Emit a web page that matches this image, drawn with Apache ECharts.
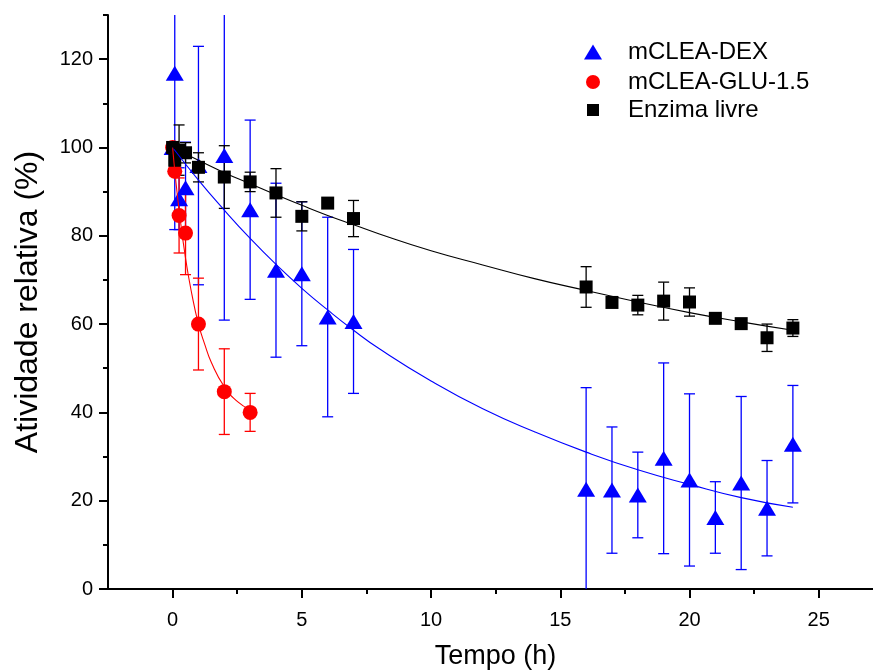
<!DOCTYPE html>
<html>
<head>
<meta charset="utf-8">
<script src="https://cdn.jsdelivr.net/npm/echarts@6/dist/echarts.min.js"></script>
<style>
html,body{margin:0;padding:0;background:#fff;}
#c{width:873px;height:671px;}
</style>
</head>
<body>
<div id="c"></div>
<script>
// ---- data ----
const tDex   = [0, 0.083, 0.25, 0.5, 1, 2, 3, 4, 5, 6, 7, 16, 17, 18, 19, 20, 21, 22, 23, 24];
const dex    = [100, 116.8, 88.4, 90.9, 95.9, 98.2, 85.9, 72.2, 71.4, 61.6, 60.6, 22.6, 22.4, 21.3, 29.6, 24.7, 16.2, 24.0, 18.3, 32.8];
const dexErr = [0, 35.4, 7, 10.3, 27, 37.3, 20.3, 19.7, 16.3, 22.6, 16.3, 23, 14.3, 9.7, 21.6, 19.5, 8.1, 19.6, 10.8, 13.3];

const tGlu   = [0, 0.083, 0.25, 0.5, 1, 2, 3];
const glu    = [100, 94.6, 84.6, 80.6, 60.0, 44.7, 40.0];
const gluErr = [0, 0, 8.5, 9.4, 10.4, 9.7, 4.3];

const tFree   = [0, 0.083, 0.25, 0.5, 1, 2, 3, 4, 5, 6, 7, 16, 17, 18, 19, 20, 21, 22, 23, 24];
const free    = [100, 97.1, 99.4, 98.8, 95.5, 93.3, 92.2, 89.7, 84.4, 87.4, 83.9, 68.4, 64.9, 64.3, 65.2, 65.0, 61.3, 60.1, 56.9, 59.1];
const freeErr = [0, 0, 5.7, 2.3, 3.3, 7.1, 2.2, 5.5, 3.3, 0, 4.1, 4.6, 0, 2.2, 4.3, 3.2, 0, 0, 3.1, 1.9];

// fitted curves
const fitT    = [0, 1, 2, 3, 4, 5, 6, 7, 8, 10, 12, 14, 16, 18, 20, 22, 24];
const fitFree = [100, 97.1, 94.3, 91.8, 89.3, 86.9, 84.6, 82.5, 80.4, 76.6, 73.4, 70.3, 67.6, 65.0, 62.6, 60.5, 58.6];
const fitDex  = [100, 92.6, 85.8, 79.4, 73.5, 68.1, 63.2, 58.6, 54.4, 47.1, 40.8, 35.6, 31.0, 27.0, 23.7, 20.7, 18.5];
const fitGluT = [0, 0.1, 0.25, 0.5, 0.75, 1, 1.25, 1.5, 2, 2.5, 3];
const fitGlu  = [100, 93.8, 85.9, 74.9, 66.6, 60.0, 55.3, 51.3, 45.8, 42.5, 40.6];

const xMajor = [0, 5, 10, 15, 20, 25];
const xMinor = [2.5, 7.5, 12.5, 17.5, 22.5];
const yMajor = [0, 20, 40, 60, 80, 100, 120];
const yMinor = [10, 30, 50, 70, 90, 110, 130];

const names = ['mCLEA-DEX', 'mCLEA-GLU-1.5', 'Enzima livre'];
// ---------------------------------------

const FONT = '"Liberation Sans", Arial, sans-serif';
const zip = (a, b) => a.map((v, i) => [v, b[i]]);
const zip3 = (a, b, c) => a.map((v, i) => [v, b[i], c[i]]);

function errSeries(data, color) {
  return {
    type: 'custom',
    xAxisIndex: 0, yAxisIndex: 0,
    clip: true,
    silent: true,
    data: data.filter(d => d[2] > 0),
    renderItem: function (params, api) {
      const x = api.value(0), y = api.value(1), e = api.value(2);
      const top = api.coord([x, y + e]);
      const bot = api.coord([x, y - e]);
      const hw = 5.5;
      const st = { stroke: color, lineWidth: 1.3 };
      return {
        type: 'group',
        children: [
          { type: 'line', shape: { x1: top[0], y1: top[1], x2: bot[0], y2: bot[1] }, style: st },
          { type: 'line', shape: { x1: top[0] - hw, y1: top[1], x2: top[0] + hw, y2: top[1] }, style: st },
          { type: 'line', shape: { x1: bot[0] - hw, y1: bot[1], x2: bot[0] + hw, y2: bot[1] }, style: st }
        ]
      };
    }
  };
}

function fitSeries(xs, ys, color) {
  return {
    type: 'line', xAxisIndex: 0, yAxisIndex: 0,
    data: zip(xs, ys), smooth: true, showSymbol: false, symbol: 'none',
    lineStyle: { color: color, width: 1.1 }, silent: true
  };
}

const BLUE = '#0000ff', RED = '#ff0000', BLACK = '#000000';

const chart = echarts.init(document.getElementById('c'), null, { renderer: 'canvas' });

const xBase = { type: 'value', min: -2.5, max: 27.1, splitLine: { show: false } };
const yBase = { type: 'value', min: 0, max: 130, splitLine: { show: false } };

function legendFor(name, icon, w, h, left, top, pad) {
  return {
    data: [{ name: name, icon: icon }],
    left: left, top: top,
    itemWidth: w, itemHeight: h,
    selectedMode: false,
    textStyle: { fontFamily: FONT, fontSize: 24, color: '#000', padding: [0, 0, 0, pad] }
  };
}

chart.setOption({
  animation: false,
  backgroundColor: '#fff',
  grid: { left: 108, right: 0, top: 15, bottom: 82, containLabel: false, outerBoundsMode: 'none' },
  legend: [
    legendFor(names[0], 'triangle', 18, 15, 579, 35, 21),
    legendFor(names[1], 'circle', 14, 14, 581, 65, 23),
    legendFor(names[2], 'rect', 12, 12, 582, 93, 24)
  ],
  xAxis: [
    Object.assign({}, xBase, {
      name: 'Tempo (h)', nameLocation: 'middle', nameGap: 54,
      nameTextStyle: { fontFamily: FONT, fontSize: 27, color: '#000', padding: [0, 0, 0, 10] },
      axisLine: { show: true, onZero: false, lineStyle: { color: '#000', width: 2 } },
      axisTick: { show: true, inside: false, length: 9, customValues: xMajor, lineStyle: { color: '#000', width: 2 } },
      axisLabel: { customValues: xMajor, margin: 21, fontFamily: FONT, fontSize: 20, color: '#000' }
    }),
    Object.assign({}, xBase, {
      position: 'bottom',
      axisLine: { show: false, onZero: false },
      axisTick: { show: true, inside: false, length: 5, customValues: xMinor, lineStyle: { color: '#000', width: 2 } },
      axisLabel: { show: false }
    })
  ],
  yAxis: [
    Object.assign({}, yBase, {
      name: 'Atividade relativa (%)', nameLocation: 'middle', nameGap: 64, nameRotate: 90,
      nameTextStyle: { fontFamily: FONT, fontSize: 32, color: '#000' },
      axisLine: { show: true, onZero: false, lineStyle: { color: '#000', width: 2 } },
      axisTick: { show: true, inside: false, length: 9, customValues: yMajor, lineStyle: { color: '#000', width: 2 } },
      axisLabel: { customValues: yMajor, margin: 15, fontFamily: FONT, fontSize: 20, color: '#000' }
    }),
    Object.assign({}, yBase, {
      position: 'left',
      axisLine: { show: false, onZero: false },
      axisTick: { show: true, inside: false, length: 5, customValues: yMinor, lineStyle: { color: '#000', width: 2 } },
      axisLabel: { show: false }
    })
  ],
  series: [
    errSeries(zip3(tDex, dex, dexErr), BLUE),
    fitSeries(fitT, fitDex, BLUE),
    { name: names[0], type: 'scatter', xAxisIndex: 0, yAxisIndex: 0, data: zip(tDex, dex),
      symbol: 'triangle', symbolSize: [18, 15], itemStyle: { color: BLUE, opacity: 1 } },
    errSeries(zip3(tGlu, glu, gluErr), RED),
    fitSeries(fitGluT, fitGlu, RED),
    { name: names[1], type: 'scatter', xAxisIndex: 0, yAxisIndex: 0, data: zip(tGlu, glu),
      symbol: 'circle', symbolSize: 15, itemStyle: { color: RED, opacity: 1 } },
    errSeries(zip3(tFree, free, freeErr), BLACK),
    fitSeries(fitT, fitFree, BLACK),
    { name: names[2], type: 'scatter', xAxisIndex: 0, yAxisIndex: 0, data: zip(tFree, free),
      symbol: 'rect', symbolSize: 13, itemStyle: { color: BLACK, opacity: 1 } }
  ]
});
</script>
</body>
</html>
